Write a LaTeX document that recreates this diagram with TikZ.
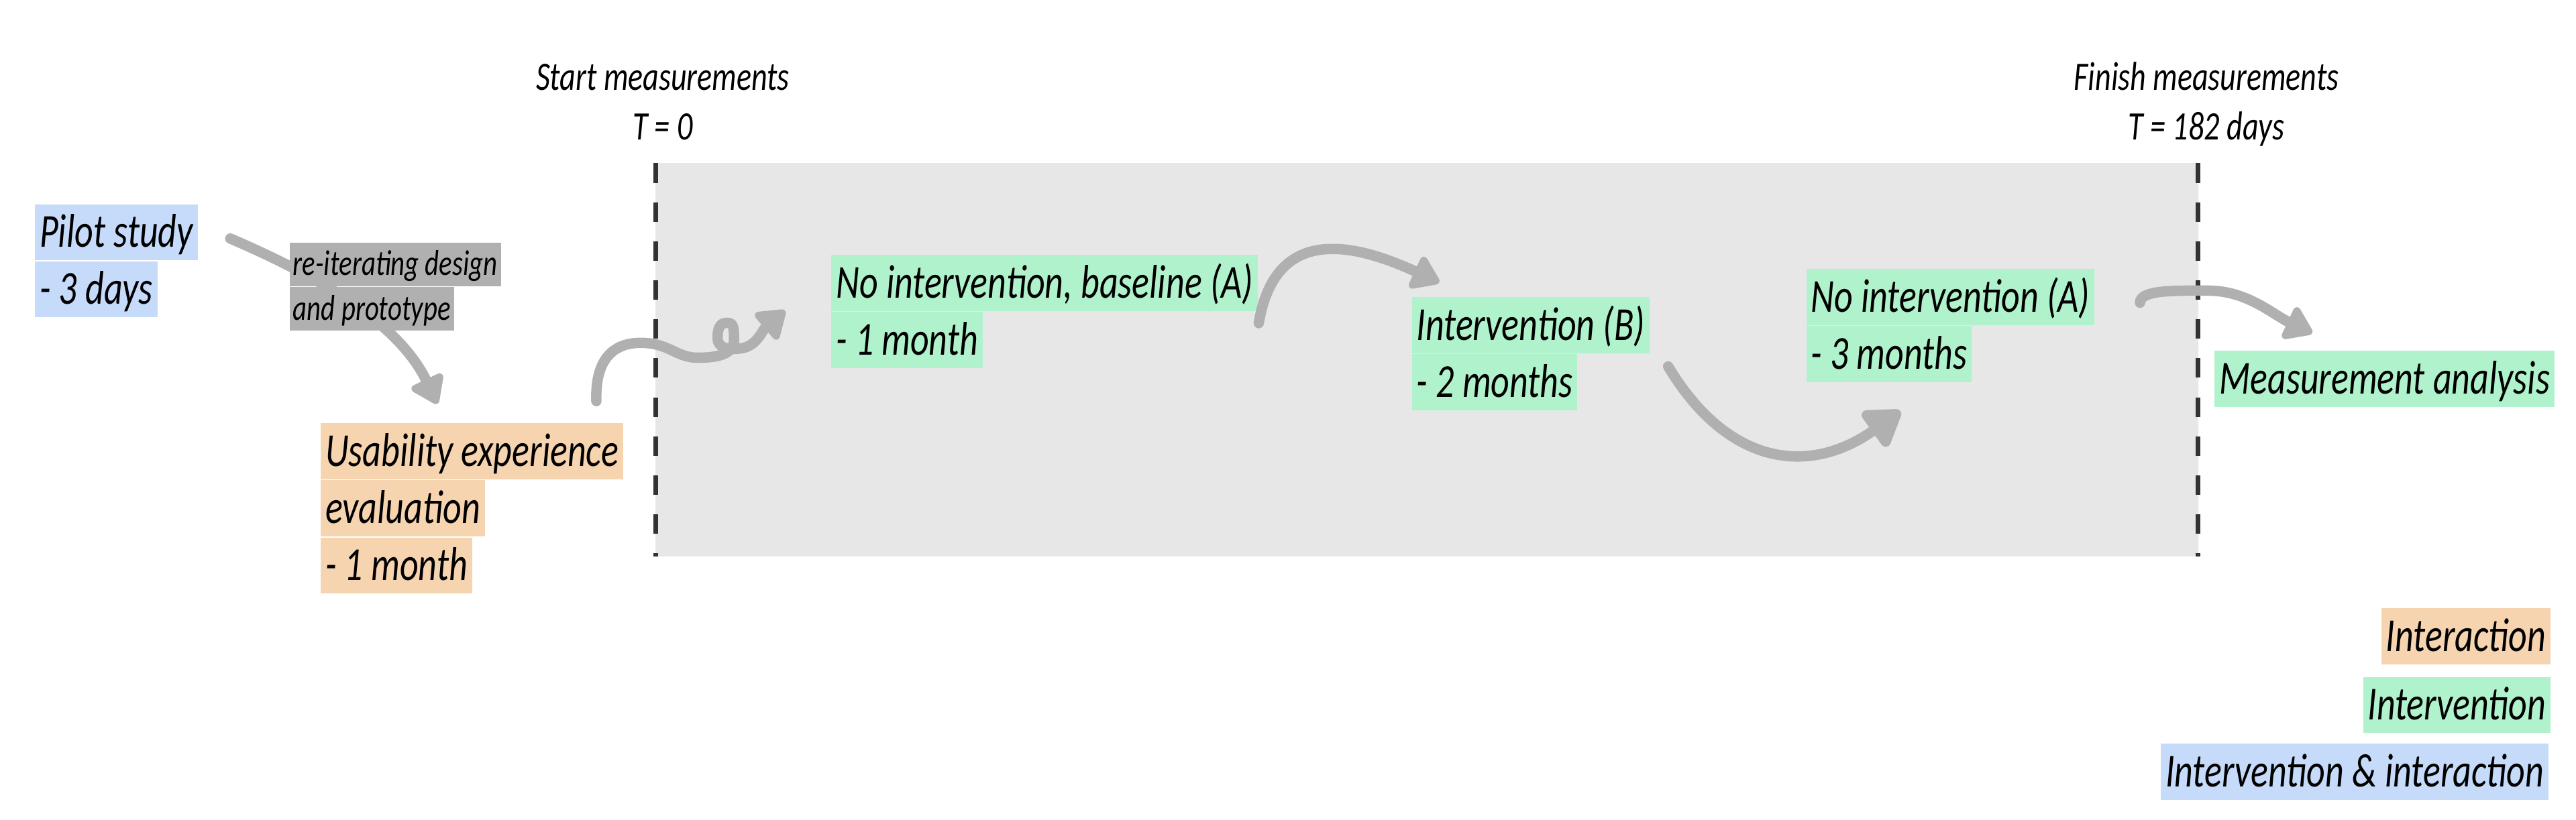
\documentclass[tikz,border=0pt]{standalone}
\usepackage{fontspec}
\setmainfont{Carlito}[FakeStretch=0.765]
\usetikzlibrary{arrows.meta}

\definecolor{interactbg}{RGB}{247,212,176}
\definecolor{interventbg}{RGB}{176,242,204}
\definecolor{bothbg}{RGB}{198,219,250}
\definecolor{notebg}{RGB}{176,176,176}
\definecolor{arrowgray}{RGB}{176,176,176}
\definecolor{regionbg}{RGB}{231,231,231}
\definecolor{dashgray}{RGB}{51,51,51}

\newcommand{\handfont}{\fontsize{20.5}{24}\selectfont\itshape}
\newcommand{\notefont}{\fontsize{15.5}{18}\selectfont\itshape}
\newcommand{\timefont}{\fontsize{17.5}{21}\selectfont\itshape}

\begin{document}
\begin{tikzpicture}[hl/.style = {anchor=north west, minimum height=0.855cm, inner xsep=2pt, inner ysep=1pt, text height=16pt, text depth=3pt, font=\handfont},
		interact/.style = {hl, fill=interactbg},
		intervent/.style = {hl, fill=interventbg},
		both/.style = {hl, fill=bothbg},
		note/.style = {anchor=north west, fill=notebg, minimum height=0.665cm, inner xsep=1.5pt, inner ysep=0pt, text height=12pt, text depth=2.5pt, font=\notefont},
		timelabel/.style = {anchor=base, inner sep=0pt, font=\timefont},
		flow/.style = {draw=arrowgray, line width=4.5pt, line cap=round, -{Triangle[length=13pt,width=17pt,round]}},
		bigflow/.style = {flow, -{Triangle[length=17pt,width=21pt,round]}},
		limit/.style = {draw=dashgray, line width=2pt, dash pattern=on 8.45pt off 8.45pt}]
		\useasboundingbox (0,0) rectangle (39.2,12.475);
		% measurement period
		\fill[regionbg] (9.975,4.0) rectangle (33.45,9.99);
		\draw[limit] (9.975,9.99) -- (9.975,4.0);
		\draw[limit] (33.45,9.99) -- (33.45,4.0);
		\node (start) [timelabel] at (10.085,11.1) {Start measurements};
		\node (t0) [timelabel] at (10.085,10.35) {T = 0};
		\node (finish) [timelabel] at (33.575,11.1) {Finish measurements};
		\node (t182) [timelabel] at (33.575,10.35) {T = 182 days};
		% phases
		\node (pilot) [both] at (0.525,9.373) {Pilot study};
		\node (pilot2) [both] at (pilot.south west) {- 3 days};
		\node (usab) [interact] at (4.875,6.0375) {Usability experience};
		\node (usab2) [interact] at (usab.south west) {evaluation};
		\node (usab3) [interact] at (usab2.south west) {- 1 month};
		\node (base) [intervent] at (12.645,8.605) {No intervention, baseline (A)};
		\node (base2) [intervent] at (base.south west) {- 1 month};
		\node (interv) [intervent] at (21.48,7.96) {Intervention (B)};
		\node (interv2) [intervent] at (interv.south west) {- 2 months};
		\node (noint) [intervent] at (27.48,8.39) {No intervention (A)};
		\node (noint2) [intervent] at (noint.south west) {- 3 months};
		\node (analysis) [intervent] at (33.695,7.14) {Measurement analysis};
		% legend
		\node (leg1) [interact, anchor=north east] at (38.82,3.22) {Interaction};
		\node (leg2) [intervent, anchor=north east] at (38.82,2.175) {Intervention};
		\node (leg3) [both, anchor=north east] at (38.79,1.16) {Intervention \& interaction};
		% arrows
		\draw[flow] ([shift={(2.98,-0.53)}]pilot.north west) .. controls +(1.75,-0.75) and +(-0.5,1.05) .. ([shift={(1.78,0.29)}]usab.north west);
		\draw[flow] ([shift={(4.2,0.33)}]usab.north west) .. controls +(-0.02,0.6) and +(-0.45,0) .. (9.75,7.255)
			.. controls +(0.45,0) and +(-0.35,-0.02) .. (10.65,7.03)
			.. controls +(0.35,0) and +(0,-0.18) .. (11.17,7.3)
			.. controls +(0,0.2) and +(0.1,0) .. (11.06,7.56)
			.. controls +(-0.12,0) and +(0,0.12) .. (10.92,7.33)
			.. controls +(0,-0.15) and +(-0.2,-0.03) .. (11.27,7.17)
			.. controls +(0.25,0.03) and +(-0.35,-0.3) .. ([shift={(-0.7,-0.86)}]base.north west);
		\draw[flow] ([shift={(6.51,-1.05)}]base.north west) .. controls +(0.25,1.5) and +(-1.3,0.6) .. ([shift={(0.42,0.215)}]interv.north west);
		\draw[bigflow] ([shift={(3.905,-1.065)}]interv.north west) .. controls +(0.9,-1.5) and +(-1.4,-1.0) .. ([shift={(1.44,-2.175)}]noint.north west);
		\draw[flow] ([shift={(5.085,-0.525)}]noint.north west) .. controls +(0,0.2) and +(-0.5,0) .. (33.6,8.05)
			.. controls +(0.6,0) and +(-0.6,0.28) .. ([shift={(1.49,0.265)}]analysis.north west);
		% design loop note
		\node (note) [note] at (4.4,8.79) {re-iterating design};
		\node (note2) [note] at (note.south west) {and prototype};
	\end{tikzpicture}
\end{document}
